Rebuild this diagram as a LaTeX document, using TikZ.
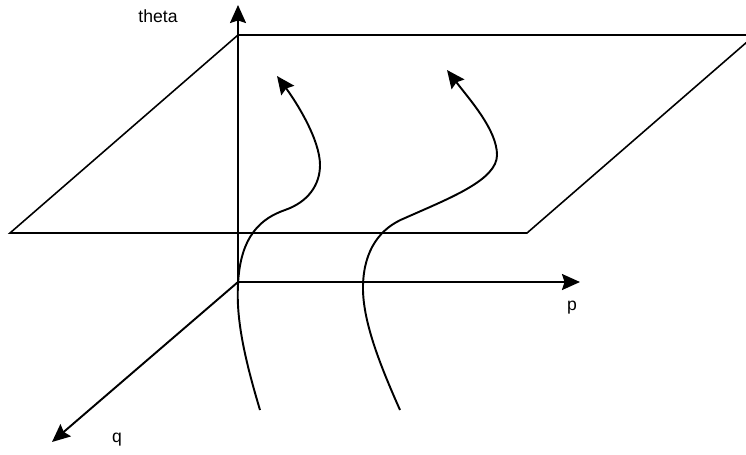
\documentclass[tikz,border=0pt]{standalone}
\usepackage{fontspec}
\setmainfont{Liberation Sans}
\usetikzlibrary{arrows.meta}

\begin{document}
\begin{tikzpicture}[x=0.02cm,y=-0.02cm,line width=1.1pt,
  axis/.style={-{Stealth[length=3.6mm,width=3.2mm,inset=0.5mm]}},
  flow/.style={-{Stealth[length=3.6mm,width=3.2mm,inset=0.5mm]}},
  lbl/.style={font=\fontsize{10}{12}\selectfont}]
  \useasboundingbox (0,0) rectangle (746,454);
  % plane
  \begin{scope}
    \clip (0,0) rectangle (746,454);
    \draw[line width=0.9pt] (10,233) -- (238,35) -- (755,35) -- (527,233) -- cycle;
  \end{scope}
  % axes
  \coordinate (O) at (238,282);
  \coordinate (thetatip) at (238,5);
  \coordinate (ptip) at (580,282);
  \coordinate (qtip) at (52,442);
  \draw[axis] (O) -- (thetatip);
  \draw[axis] (O) -- (ptip);
  \draw[axis] (O) -- (qtip);
  \node[lbl] (theta) at (158,16) {theta};
  \node[lbl] (p) at (572,308) {p};
  \node[lbl] (q) at (117,440) {q};
  % trajectories
  \draw[flow] (260,410) .. controls (245,360) and (236,320) .. (238,285)
    .. controls (240,235) and (262,218) .. (285,210)
    .. controls (308,202) and (320,185) .. (320,165)
    .. controls (320,140) and (297,103) .. (277,76);
  \draw[flow] (400,410) .. controls (380,365) and (362,320) .. (363,285)
    .. controls (364,250) and (380,228) .. (405,218)
    .. controls (450,198) and (497,180) .. (497,155)
    .. controls (497,130) and (470,100) .. (447,70);
\end{tikzpicture}
\end{document}
